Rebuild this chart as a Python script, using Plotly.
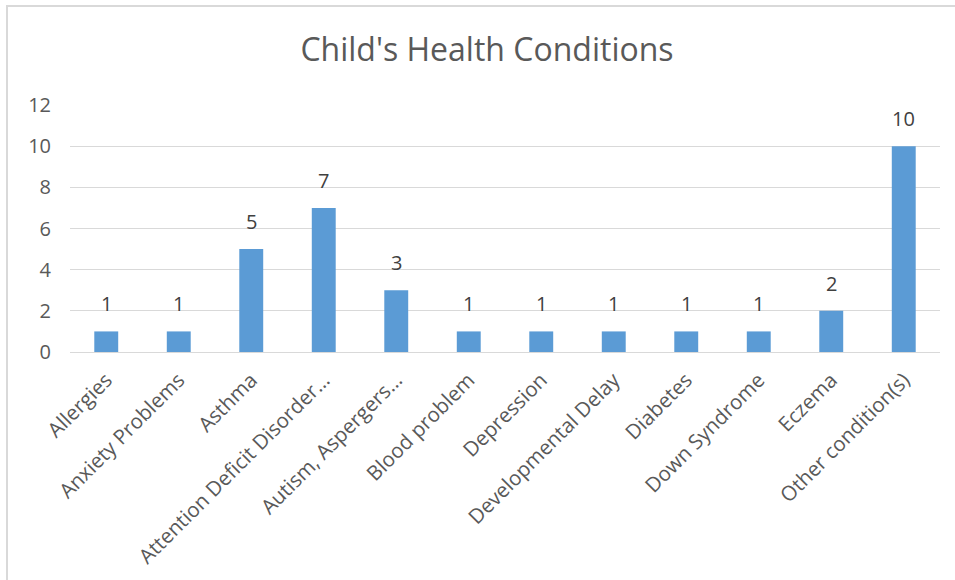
import plotly.graph_objects as go

conditions = [
    "Allergies", "Anxiety Problems", "Asthma", "Attention Deficit Disorder…",
    "Autism, Aspergers…", "Blood problem", "Depression", "Developmental Delay",
    "Diabetes", "Down Syndrome", "Eczema", "Other condition(s)",
]
counts = [1, 1, 5, 7, 3, 1, 1, 1, 1, 1, 2, 10]
y_ticks = [0, 2, 4, 6, 8, 10, 12]

FONT = "'Open Sans', sans-serif"
TEXT = "#595959"
GRID = "#d9d9d9"
BAR = "#5b9bd5"

fig = go.Figure()
fig.add_trace(go.Bar(
    x=conditions, y=counts, marker=dict(color=BAR, line=dict(width=0)),
    hoverinfo="x+y",
))

# value labels above each bar
for c, v in zip(conditions, counts):
    fig.add_annotation(x=c, y=v, text=str(v), showarrow=False,
                       yanchor="bottom", yshift=12,
                       font=dict(family=FONT, size=20, color="#404040"))

W, H = 955, 580
L, R, T, B = 70, 15, 105, 228
pw, ph = W - L - R, H - T - B

# outer chart border
fig.add_shape(type="rect", xref="paper", yref="paper",
              x0=(7 - L) / pw, x1=(W + 20 - L) / pw,
              y0=-(H + 20 - T - ph) / ph, y1=(H - B - 6) / ph,
              line=dict(color=GRID, width=2), fillcolor="rgba(0,0,0,0)")

fig.update_layout(
    width=W, height=H,
    margin=dict(l=L, r=R, t=T, b=B),
    paper_bgcolor="white", plot_bgcolor="white",
    bargap=0.67,
    showlegend=False,
    title=dict(text="Child's Health Conditions", x=487 / W, xanchor="center",
               y=1 - 50 / H, yanchor="middle",
               font=dict(family=FONT, size=32, color=TEXT)),
    xaxis=dict(tickangle=-45, showgrid=False, showline=True, linecolor=GRID,
               linewidth=1, ticks="", ticklabelstandoff=7,
               tickfont=dict(family=FONT, size=20.5, color=TEXT)),
    yaxis=dict(range=[0, 12], tickvals=y_ticks, showgrid=True, gridcolor=GRID,
               gridwidth=1, zeroline=False, showline=False, ticks="",
               ticklabelstandoff=18,
               tickfont=dict(family=FONT, size=20, color=TEXT)),
)

fig.write_html("out.html")
